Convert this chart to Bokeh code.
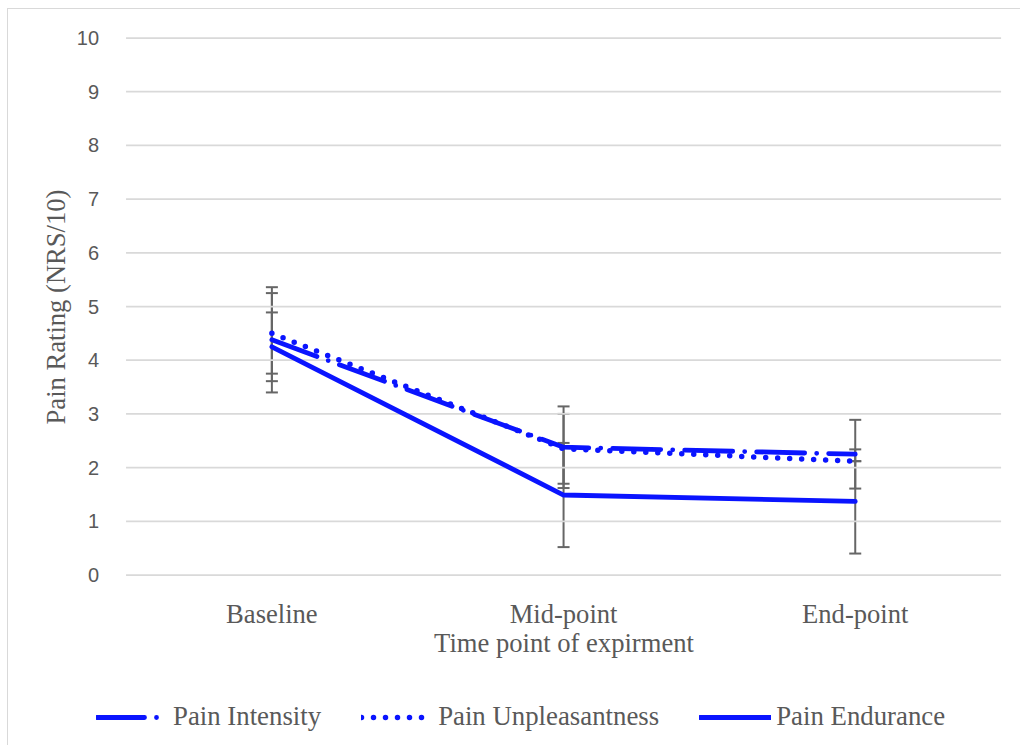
from bokeh.plotting import figure
from bokeh.models import ColumnDataSource, Whisker, TeeHead, Legend, LegendItem, FixedTicker, Range1d
from bokeh.embed import file_html
from bokeh.resources import INLINE

categories = ["Baseline", "Mid-point", "End-point"]
intensity = [4.38, 2.38, 2.25]
intensity_sd = [0.98, 0.76, 0.64]
unpleasantness = [4.50, 2.35, 2.12]
unpleasantness_sd = [0.75, 0.65, 0.0]
endurance = [4.25, 1.49, 1.37]
endurance_sd = [0.64, 0.97, 0.97]
y_ticks = [0, 1, 2, 3, 4, 5, 6, 7, 8, 9, 10]

BLUE = "#0a14ff"
GREY_TXT = "#595959"
SERIF = "Liberation Serif"

xs = list(range(len(categories)))
x_lo, x_hi = -0.5, len(categories) - 0.5

p = figure(width=1013, height=737,
           x_range=Range1d(-0.903, 2.570), y_range=Range1d(-3.193, 10.531),
           output_backend="svg", toolbar_location=None,
           min_border_left=0, min_border_right=0, min_border_top=0, min_border_bottom=0)
p.margin = (8, 0, 0, 7)
p.styles = {"border-left": "1.5px solid #d9d9d9", "border-top": "1.5px solid #d9d9d9"}
p.outline_line_color = None
p.background_fill_color = "white"
p.border_fill_color = "white"
p.xgrid.grid_line_color = None
p.ygrid.grid_line_color = None

# horizontal gridlines limited to the plot area
p.segment(x0=[x_lo] * len(y_ticks), x1=[x_hi] * len(y_ticks), y0=y_ticks, y1=y_ticks,
          line_color="#d9d9d9", line_width=1.75)

xa = p.xaxis[0]
ya = p.yaxis[0]
xa.fixed_location = 0
ya.fixed_location = x_lo
xa.bounds = (x_lo, x_hi)
ya.bounds = (0, 10)
xa.ticker = FixedTicker(ticks=xs)
xa.major_label_overrides = {i: c for i, c in zip(xs, categories)}
ya.ticker = FixedTicker(ticks=y_ticks)

for ax in (xa, ya):
    ax.axis_line_color = None
    ax.major_tick_line_color = None
    ax.minor_tick_line_color = None

ya.major_label_text_font = "Liberation Sans"
ya.major_label_text_font_size = "20px"
ya.major_label_text_color = GREY_TXT
ya.major_label_standoff = 21
ya.axis_label = "Pain Rating (NRS/10)"
ya.axis_label_text_font = SERIF
ya.axis_label_text_font_size = "26.6px"
ya.axis_label_text_font_style = "normal"
ya.axis_label_text_color = GREY_TXT
ya.axis_label_standoff = 3

xa.major_label_text_font = SERIF
xa.major_label_text_font_size = "26.6px"
xa.major_label_text_color = GREY_TXT
xa.major_label_standoff = 18
xa.axis_label = "Time point of expirment"
xa.axis_label_text_font = SERIF
xa.axis_label_text_font_size = "26.6px"
xa.axis_label_text_font_style = "normal"
xa.axis_label_text_color = GREY_TXT
xa.axis_label_standoff = -5

# error bars (beneath the lines)
for vals, sds in ((intensity, intensity_sd), (unpleasantness, unpleasantness_sd), (endurance, endurance_sd)):
    src = ColumnDataSource(dict(x=xs,
                                upper=[v + s for v, s in zip(vals, sds)],
                                lower=[v - s for v, s in zip(vals, sds)]))
    w = Whisker(base="x", upper="upper", lower="lower", source=src,
                line_color="#666666", line_width=2, level="underlay",
                upper_head=TeeHead(size=12, line_color="#666666", line_width=2),
                lower_head=TeeHead(size=12, line_color="#666666", line_width=2))
    p.add_layout(w)

r1 = p.line(xs, intensity, line_color=BLUE, line_width=4.8,
            line_dash="48 12 0 12", line_cap="round", line_join="round")
r2 = p.line(xs, unpleasantness, line_color=BLUE, line_width=5.5,
            line_dash="0 12", line_cap="round", line_join="round")
r3 = p.line(xs, endurance, line_color=BLUE, line_width=4.8,
            line_cap="round", line_join="round")

legend = Legend(items=[LegendItem(label="Pain Intensity", renderers=[r1]),
                       LegendItem(label="Pain Unpleasantness", renderers=[r2]),
                       LegendItem(label="Pain Endurance", renderers=[r3])],
                orientation="horizontal", location=(88, 14))
legend.margin = 0
legend.label_text_font = SERIF
legend.label_text_font_size = "26.8px"
legend.label_text_color = GREY_TXT
legend.glyph_width = 72
legend.glyph_height = 24
legend.label_standoff = 5
legend.spacing = 40
legend.padding = 5
legend.border_line_color = None
legend.background_fill_alpha = 0
p.add_layout(legend, "center")

open("out.html", "w").write(file_html(p, INLINE))
